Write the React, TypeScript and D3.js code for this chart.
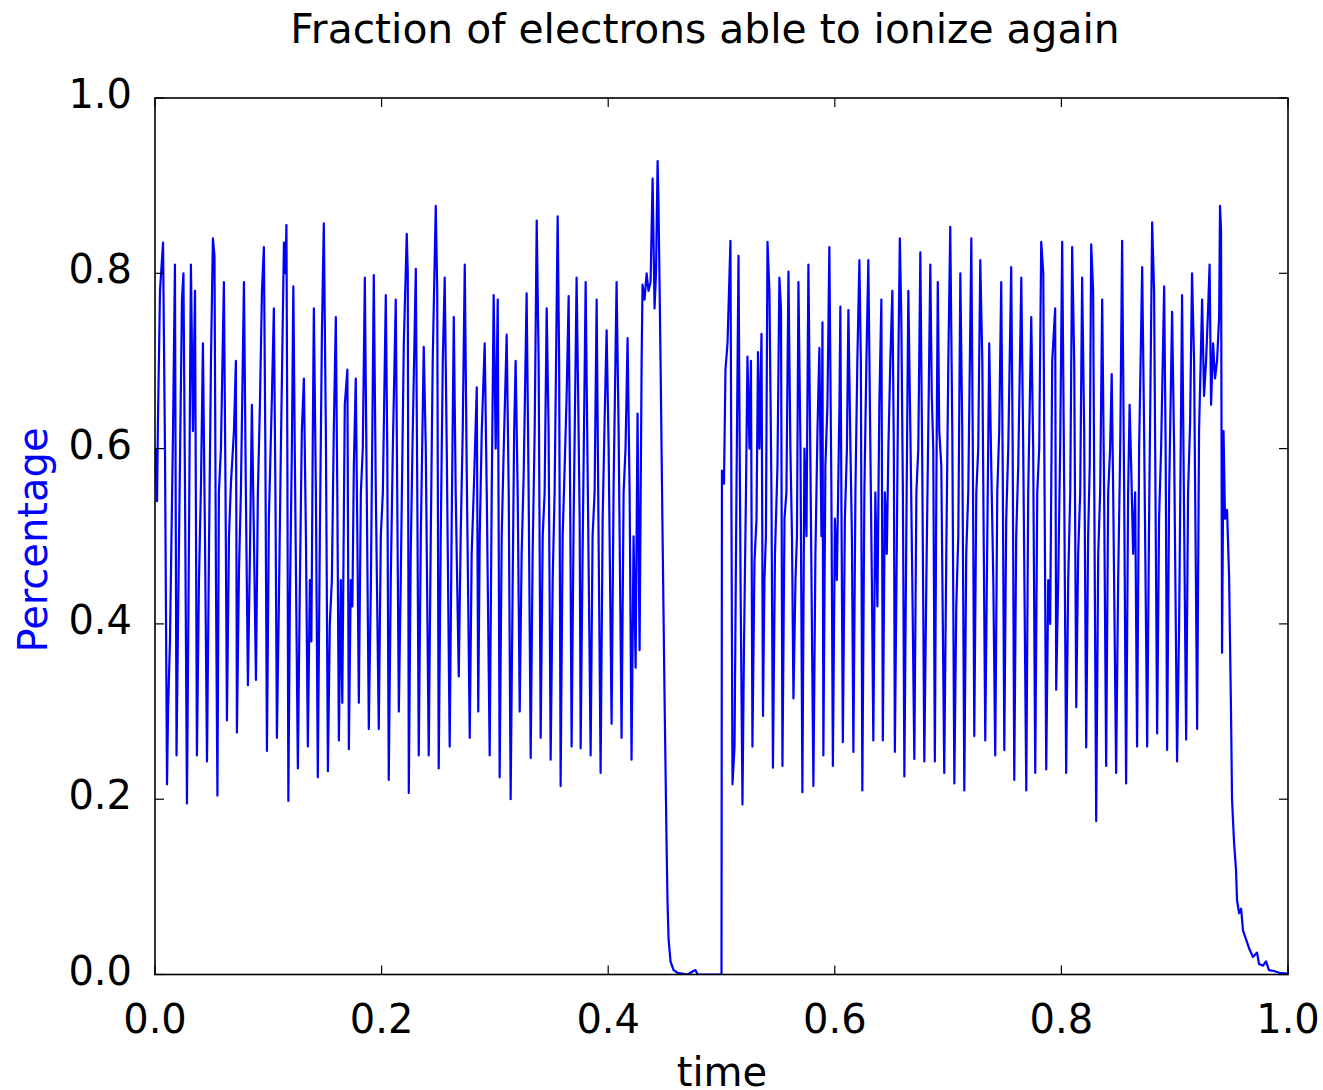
import React from 'react';
import * as d3 from 'd3';

const titleText = 'Fraction of electrons able to ionize again';
const xLabelText = 'time';
const yLabelText = 'Percentage';
const xTicks = [0, 0.2, 0.4, 0.6, 0.8, 1.0];
const yTicks = [0, 0.2, 0.4, 0.6, 0.8, 1.0];

// [time, fraction]
const firstBurst: [number, number][] = [
  [0.0004,0.60],[0.0018,0.54],[0.0026,0.63],[0.0044,0.78],[0.0071,0.835],[0.0088,0.60],[0.0106,0.217],[0.0115,0.30],[0.0132,0.38],[0.0159,0.62],
  [0.0176,0.81],[0.0190,0.25],[0.0203,0.40],[0.0220,0.58],[0.0238,0.77],[0.0251,0.80],[0.0265,0.55],[0.0282,0.195],[0.0300,0.50],[0.0317,0.81],
  [0.0335,0.62],[0.0353,0.78],[0.0370,0.25],[0.0388,0.45],[0.0406,0.56],[0.0423,0.72],[0.0441,0.50],[0.0459,0.243],[0.0476,0.48],[0.0494,0.70],
  [0.0511,0.84],[0.0525,0.82],[0.0538,0.45],[0.0551,0.204],[0.0564,0.55],[0.0582,0.60],[0.0608,0.79],[0.0622,0.56],[0.0635,0.29],[0.0653,0.50],
  [0.0670,0.56],[0.0697,0.62],[0.0714,0.70],[0.0723,0.276],[0.0741,0.46],[0.0758,0.55],[0.0785,0.79],[0.0802,0.55],[0.0820,0.33],[0.0838,0.48],
  [0.0855,0.65],[0.0873,0.50],[0.0891,0.336],[0.0908,0.55],[0.0926,0.65],[0.0944,0.78],[0.0961,0.83],[0.0974,0.60],[0.0988,0.255],[0.1005,0.52],
  [0.1032,0.66],[0.1049,0.76],[0.1063,0.55],[0.1076,0.27],[0.1093,0.42],[0.1111,0.60],[0.1138,0.835],[0.1151,0.80],[0.1160,0.855],[0.1168,0.60],
  [0.1177,0.198],[0.1190,0.42],[0.1208,0.60],[0.1221,0.785],[0.1235,0.58],[0.1261,0.235],[0.1279,0.45],[0.1296,0.62],[0.1314,0.68],[0.1332,0.50],
  [0.1349,0.26],[0.1367,0.45],[0.1380,0.38],[0.1393,0.62],[0.1402,0.76],[0.1420,0.55],[0.1437,0.225],[0.1455,0.50],[0.1473,0.73],[0.1490,0.857],
  [0.1508,0.62],[0.1526,0.232],[0.1543,0.40],[0.1561,0.45],[0.1578,0.62],[0.1596,0.75],[0.1609,0.55],[0.1623,0.267],[0.1640,0.45],[0.1653,0.31],
  [0.1675,0.65],[0.1698,0.69],[0.1711,0.257],[0.1728,0.45],[0.1742,0.42],[0.1755,0.58],[0.1772,0.68],[0.1786,0.50],[0.1799,0.31],[0.1817,0.55],
  [0.1834,0.60],[0.1852,0.795],[0.1869,0.55],[0.1887,0.28],[0.1905,0.44],[0.1931,0.798],[0.1949,0.55],[0.1975,0.28],[0.1993,0.50],[0.2011,0.55],
  [0.2037,0.775],[0.2050,0.60],[0.2063,0.222],[0.2081,0.45],[0.2099,0.60],[0.2125,0.77],[0.2138,0.55],[0.2152,0.30],[0.2169,0.45],[0.2196,0.72],
  [0.2222,0.845],[0.2231,0.80],[0.2240,0.207],[0.2257,0.48],[0.2275,0.62],[0.2302,0.805],[0.2315,0.55],[0.2328,0.25],[0.2346,0.50],[0.2372,0.716],
  [0.2390,0.60],[0.2416,0.25],[0.2434,0.50],[0.2451,0.70],[0.2478,0.877],[0.2491,0.78],[0.2504,0.235],[0.2522,0.50],[0.2540,0.70],[0.2557,0.795],
  [0.2575,0.60],[0.2601,0.26],[0.2619,0.52],[0.2637,0.75],[0.2654,0.55],[0.2681,0.34],[0.2698,0.50],[0.2716,0.62],[0.2734,0.81],[0.2751,0.58],
  [0.2778,0.27],[0.2795,0.48],[0.2813,0.55],[0.2840,0.67],[0.2853,0.30],[0.2866,0.50],[0.2884,0.62],[0.2910,0.72],[0.2928,0.55],[0.2954,0.25],
  [0.2972,0.55],[0.2989,0.775],[0.3007,0.60],[0.3025,0.77],[0.3042,0.225],[0.3060,0.50],[0.3078,0.60],[0.3104,0.73],[0.3122,0.55],[0.3139,0.20],
  [0.3157,0.45],[0.3170,0.62],[0.3183,0.70],[0.3201,0.55],[0.3219,0.30],[0.3236,0.48],[0.3254,0.57],[0.3280,0.777],[0.3298,0.55],[0.3316,0.247],
  [0.3333,0.48],[0.3351,0.62],[0.3369,0.86],[0.3386,0.70],[0.3404,0.27],[0.3422,0.50],[0.3439,0.55],[0.3457,0.76],[0.3474,0.62],[0.3492,0.245],
  [0.3510,0.45],[0.3527,0.55],[0.3554,0.865],[0.3567,0.70],[0.3580,0.215],[0.3598,0.50],[0.3616,0.58],[0.3633,0.66],[0.3651,0.774],[0.3664,0.55],
  [0.3677,0.26],[0.3695,0.52],[0.3721,0.795],[0.3735,0.66],[0.3748,0.52],[0.3757,0.258],[0.3774,0.48],[0.3801,0.79],[0.3818,0.58],[0.3845,0.25],
  [0.3862,0.50],[0.3880,0.55],[0.3898,0.77],[0.3915,0.50],[0.3933,0.23],[0.3951,0.52],[0.3968,0.63],[0.3986,0.735],[0.4004,0.60],[0.4030,0.286],
  [0.4048,0.56],[0.4074,0.79],[0.4092,0.62],[0.4118,0.27],[0.4136,0.55],[0.4153,0.60],[0.4171,0.726],[0.4189,0.55],[0.4206,0.245],[0.4224,0.50],
  [0.4242,0.35],[0.4259,0.64],[0.4277,0.37],[0.4295,0.70],[0.4303,0.787],[0.4321,0.77],[0.4339,0.80],[0.4356,0.78],[0.4374,0.79],[0.4392,0.908],
  [0.4409,0.76],[0.4422,0.80],[0.4436,0.928],
];

const firstDecay: [number, number][] = [
  [0.4444,0.88],[0.4462,0.70],[0.4480,0.50],[0.4497,0.32],[0.4515,0.15],[0.4524,0.08],[0.4533,0.04],[0.4550,0.015],[0.4577,0.005],[0.4612,0.002],
  [0.4700,0.0],[0.4753,0.004],[0.4771,0.005],[0.4788,0.0],[0.5000,0.0],
];

const secondBurst: [number, number][] = [
  [0.5004,0.575],[0.5022,0.56],[0.5035,0.69],[0.5053,0.72],[0.5079,0.837],[0.5097,0.217],[0.5115,0.26],[0.5132,0.55],[0.5150,0.82],[0.5168,0.45],
  [0.5185,0.194],[0.5198,0.37],[0.5216,0.55],[0.5229,0.705],[0.5247,0.60],[0.5260,0.70],[0.5273,0.26],[0.5291,0.47],[0.5309,0.52],[0.5322,0.71],
  [0.5335,0.60],[0.5353,0.731],[0.5366,0.295],[0.5379,0.45],[0.5392,0.50],[0.5406,0.836],[0.5423,0.78],[0.5441,0.55],[0.5454,0.236],[0.5472,0.48],
  [0.5494,0.58],[0.5511,0.795],[0.5525,0.76],[0.5538,0.238],[0.5556,0.52],[0.5573,0.55],[0.5591,0.802],[0.5608,0.60],[0.5622,0.50],[0.5635,0.315],
  [0.5653,0.45],[0.5666,0.50],[0.5679,0.79],[0.5697,0.60],[0.5714,0.208],[0.5732,0.60],[0.5750,0.50],[0.5767,0.81],[0.5785,0.58],[0.5811,0.215],
  [0.5829,0.48],[0.5847,0.62],[0.5864,0.715],[0.5882,0.50],[0.5891,0.744],[0.5899,0.25],[0.5917,0.58],[0.5935,0.65],[0.5952,0.83],[0.5970,0.55],
  [0.5983,0.238],[0.6001,0.52],[0.6018,0.45],[0.6041,0.65],[0.6049,0.762],[0.6058,0.55],[0.6071,0.265],[0.6089,0.52],[0.6107,0.60],[0.6120,0.758],
  [0.6138,0.60],[0.6151,0.50],[0.6164,0.254],[0.6182,0.55],[0.6199,0.70],[0.6217,0.815],[0.6230,0.70],[0.6243,0.21],[0.6261,0.55],[0.6279,0.70],
  [0.6296,0.815],[0.6314,0.60],[0.6327,0.45],[0.6340,0.267],[0.6358,0.55],[0.6376,0.42],[0.6393,0.65],[0.6411,0.77],[0.6424,0.267],[0.6442,0.55],
  [0.6459,0.48],[0.6473,0.60],[0.6490,0.70],[0.6508,0.78],[0.6521,0.60],[0.6530,0.254],[0.6548,0.50],[0.6561,0.70],[0.6574,0.84],[0.6587,0.75],
  [0.6601,0.55],[0.6614,0.226],[0.6631,0.50],[0.6649,0.78],[0.6667,0.62],[0.6684,0.45],[0.6702,0.246],[0.6720,0.55],[0.6737,0.60],[0.6755,0.824],
  [0.6772,0.58],[0.6790,0.243],[0.6808,0.45],[0.6825,0.62],[0.6843,0.81],[0.6856,0.66],[0.6869,0.60],[0.6883,0.243],[0.6896,0.55],[0.6909,0.79],
  [0.6922,0.62],[0.6940,0.58],[0.6966,0.23],[0.6984,0.48],[0.7002,0.70],[0.7019,0.853],[0.7037,0.62],[0.7055,0.218],[0.7072,0.42],[0.7090,0.50],
  [0.7108,0.80],[0.7125,0.62],[0.7143,0.21],[0.7160,0.48],[0.7178,0.55],[0.7205,0.84],[0.7218,0.60],[0.7231,0.272],[0.7249,0.55],[0.7266,0.60],
  [0.7284,0.815],[0.7302,0.70],[0.7328,0.267],[0.7346,0.50],[0.7363,0.72],[0.7381,0.58],[0.7399,0.45],[0.7416,0.25],[0.7434,0.55],[0.7451,0.62],
  [0.7469,0.79],[0.7482,0.58],[0.7496,0.256],[0.7513,0.52],[0.7531,0.60],[0.7557,0.807],[0.7570,0.60],[0.7584,0.222],[0.7601,0.50],[0.7619,0.58],
  [0.7646,0.795],[0.7663,0.60],[0.7690,0.21],[0.7707,0.55],[0.7734,0.75],[0.7751,0.60],[0.7769,0.23],[0.7787,0.55],[0.7804,0.60],[0.7822,0.836],
  [0.7840,0.80],[0.7866,0.234],[0.7884,0.45],[0.7901,0.40],[0.7919,0.70],[0.7945,0.76],[0.7954,0.325],[0.7972,0.45],[0.7989,0.60],[0.8007,0.836],
  [0.8025,0.55],[0.8042,0.23],[0.8060,0.45],[0.8078,0.55],[0.8095,0.83],[0.8113,0.70],[0.8131,0.305],[0.8148,0.48],[0.8166,0.55],[0.8183,0.795],
  [0.8201,0.62],[0.8219,0.259],[0.8236,0.50],[0.8250,0.58],[0.8263,0.833],[0.8280,0.78],[0.8307,0.175],[0.8325,0.48],[0.8342,0.55],[0.8360,0.77],
  [0.8377,0.55],[0.8395,0.238],[0.8413,0.55],[0.8430,0.60],[0.8444,0.685],[0.8457,0.55],[0.8483,0.23],[0.8501,0.45],[0.8519,0.60],[0.8536,0.837],
  [0.8554,0.55],[0.8571,0.218],[0.8589,0.55],[0.8602,0.65],[0.8616,0.58],[0.8633,0.48],[0.8651,0.55],[0.8668,0.26],[0.8686,0.60],[0.8713,0.807],
  [0.8730,0.62],[0.8757,0.26],[0.8774,0.52],[0.8801,0.858],[0.8818,0.78],[0.8845,0.275],[0.8862,0.52],[0.8880,0.60],[0.8907,0.785],[0.8920,0.60],
  [0.8933,0.256],[0.8951,0.55],[0.8977,0.756],[0.8995,0.60],[0.9021,0.243],[0.9039,0.40],[0.9065,0.775],[0.9083,0.52],[0.9101,0.268],[0.9118,0.55],
  [0.9136,0.63],[0.9153,0.80],[0.9171,0.70],[0.9198,0.28],[0.9215,0.62],[0.9242,0.77],[0.9259,0.66],[0.9277,0.70],[0.9295,0.76],[0.9308,0.81],
  [0.9321,0.65],[0.9339,0.72],[0.9356,0.68],[0.9374,0.70],[0.9392,0.75],[0.9400,0.877],[0.9409,0.85],
];

const secondDecay: [number, number][] = [
  [0.9418,0.367],[0.9431,0.62],[0.9444,0.52],[0.9462,0.53],[0.9480,0.455],[0.9497,0.30],[0.9506,0.20],[0.9524,0.15],[0.9541,0.12],[0.9550,0.085],
  [0.9568,0.07],[0.9586,0.075],[0.9603,0.05],[0.9630,0.04],[0.9656,0.03],[0.9691,0.02],[0.9727,0.025],[0.9744,0.012],[0.9780,0.01],[0.9806,0.015],
  [0.9832,0.005],[0.9877,0.004],[0.9921,0.002],[0.9995,0.001],
];

export default function App() {
  const W = 1323;
  const H = 1090;
  const left = 155;
  const right = 1288;
  const top = 98;
  const bottom = 974.5;
  const font = "'DejaVu Sans', sans-serif";
  const x = d3.scaleLinear().domain([0, 1]).range([left, right]);
  const y = d3.scaleLinear().domain([0, 1]).range([bottom, top]);
  const series = [...firstBurst, ...firstDecay, ...secondBurst, ...secondDecay];
  const line = d3
    .line<[number, number]>()
    .x((d) => x(d[0]))
    .y((d) => y(d[1]));
  const fmt = d3.format('.1f');
  const tickLen = 9;

  return (
    <svg
      width={W}
      height={H}
      style={{ position: 'absolute', left: 0, top: 0, background: '#fff' }}
      fontFamily={font}
    >
      <rect x={0} y={0} width={W} height={H} fill="#fff" />
      <defs>
        <clipPath id="plotArea">
          <rect x={left} y={top - 2} width={right - left} height={bottom - top + 2} />
        </clipPath>
      </defs>
      <path
        d={line(series) || ''}
        fill="none"
        stroke="#0000ff"
        strokeWidth={2.2}
        strokeLinejoin="round"
        clipPath="url(#plotArea)"
      />
      {/* frame */}
      <rect x={left} y={top} width={right - left} height={bottom - top} fill="none" stroke="#000" strokeWidth={1.6} />
      {/* x ticks */}
      {xTicks.map((t) => (
        <g key={'x' + t}>
          <line x1={x(t)} x2={x(t)} y1={bottom} y2={bottom - tickLen} stroke="#000" strokeWidth={1.2} />
          <line x1={x(t)} x2={x(t)} y1={top} y2={top + tickLen} stroke="#000" strokeWidth={1.2} />
          <text x={x(t)} y={1033} textAnchor="middle" fontSize={40} fill="#000">
            {fmt(t)}
          </text>
        </g>
      ))}
      {/* y ticks */}
      {yTicks.map((t) => (
        <g key={'y' + t}>
          <line x1={left} x2={left + tickLen} y1={y(t)} y2={y(t)} stroke="#000" strokeWidth={1.2} />
          <line x1={right} x2={right - tickLen} y1={y(t)} y2={y(t)} stroke="#000" strokeWidth={1.2} />
          <text x={132} y={y(t) + 10} textAnchor="end" fontSize={40} fill="#000">
            {fmt(t)}
          </text>
        </g>
      ))}
      <text x={705} y={43} textAnchor="middle" fontSize={40.8} fill="#000">
        {titleText}
      </text>
      <text x={722} y={1086} textAnchor="middle" fontSize={40} fill="#000">
        {xLabelText}
      </text>
      <text
        transform={`translate(47, 540) rotate(-90)`}
        textAnchor="middle"
        fontSize={40}
        fill="#0000ff"
      >
        {yLabelText}
      </text>
    </svg>
  );
}
